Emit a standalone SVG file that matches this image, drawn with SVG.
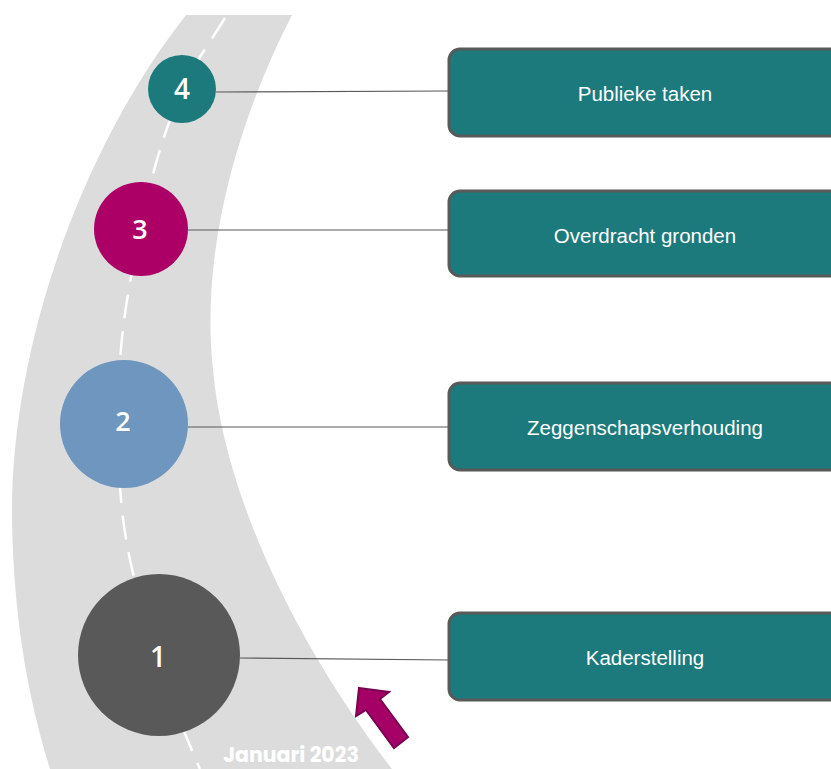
<svg xmlns="http://www.w3.org/2000/svg" width="831" height="769" viewBox="0 0 831 769">
<style>
.box{fill:#1c7a7c;stroke:#595959;stroke-width:3}
.btxt{font-family:"Liberation Sans",Arial,sans-serif;font-size:20.5px;fill:#ffffff;text-anchor:middle}
.num{font-family:"Open Sans","Noto Sans",sans-serif;font-weight:600;fill:#ffffff;text-anchor:middle}
.conn{stroke:#595959;stroke-width:1.2;fill:none}
</style>
<rect width="831" height="769" fill="#ffffff"/>
<g id="road">
<path d="M186,15 L292,15 C238,120 200,250 213,370 C225,500 300,650 392,769 L50,769 C35,720 14,640 12,520 C10,350 80,150 186,15 Z" fill="#dcdcdc"/>
<path d="M225,18 C205,50 190,70 182,90 C160,140 148,190 141,229 C125,300 118,350 118,420 C118,470 120,520 133,573 C145,620 165,690 200,769" fill="none" stroke="#ffffff" stroke-width="2.5" stroke-dasharray="24,13"/>
<text x="291" y="762" font-family="Poppins,'Open Sans',sans-serif" font-weight="700" font-size="20.5" fill="#ffffff" text-anchor="middle">Januari 2023</text>
</g>
<g id="connectors">
<line class="conn" x1="216" y1="92" x2="449" y2="91"/>
<line class="conn" x1="188" y1="230" x2="449" y2="230"/>
<line class="conn" x1="188" y1="427" x2="449" y2="427"/>
<line class="conn" x1="240" y1="658" x2="449" y2="660"/>
</g>
<g id="node4">
<circle cx="182" cy="89" r="34" fill="#1c7a7c"/>
<text class="num" x="182" y="99" font-size="28">4</text>
</g>
<g id="node3">
<circle cx="141" cy="229" r="47" fill="#ad0067"/>
<text class="num" x="140" y="239" font-size="27">3</text>
</g>
<g id="node2">
<circle cx="124" cy="424" r="64" fill="#6e96bf"/>
<text class="num" x="123" y="431" font-size="27">2</text>
</g>
<g id="node1">
<circle cx="159" cy="655" r="81" fill="#595959"/>
<text class="num" x="158" y="667" font-size="28">1</text>
</g>
<g id="box4">
<rect class="box" x="449" y="49" width="400" height="87" rx="11"/>
<text class="btxt" x="645" y="101">Publieke taken</text>
</g>
<g id="box3">
<rect class="box" x="449" y="191" width="400" height="85" rx="11"/>
<text class="btxt" x="645" y="243">Overdracht gronden</text>
</g>
<g id="box2">
<rect class="box" x="449" y="383" width="400" height="87" rx="11"/>
<text class="btxt" x="645" y="435">Zeggenschapsverhouding</text>
</g>
<g id="box1">
<rect class="box" x="449" y="613" width="400" height="87" rx="11"/>
<text class="btxt" x="645" y="665">Kaderstelling</text>
</g>
<g id="arrow">
<polygon points="359,688 389,692 380,699 408,737 394,748 366,710 356,716" fill="#a50065" stroke="#7a0050" stroke-width="2" stroke-linejoin="miter"/>
</g>
</svg>
